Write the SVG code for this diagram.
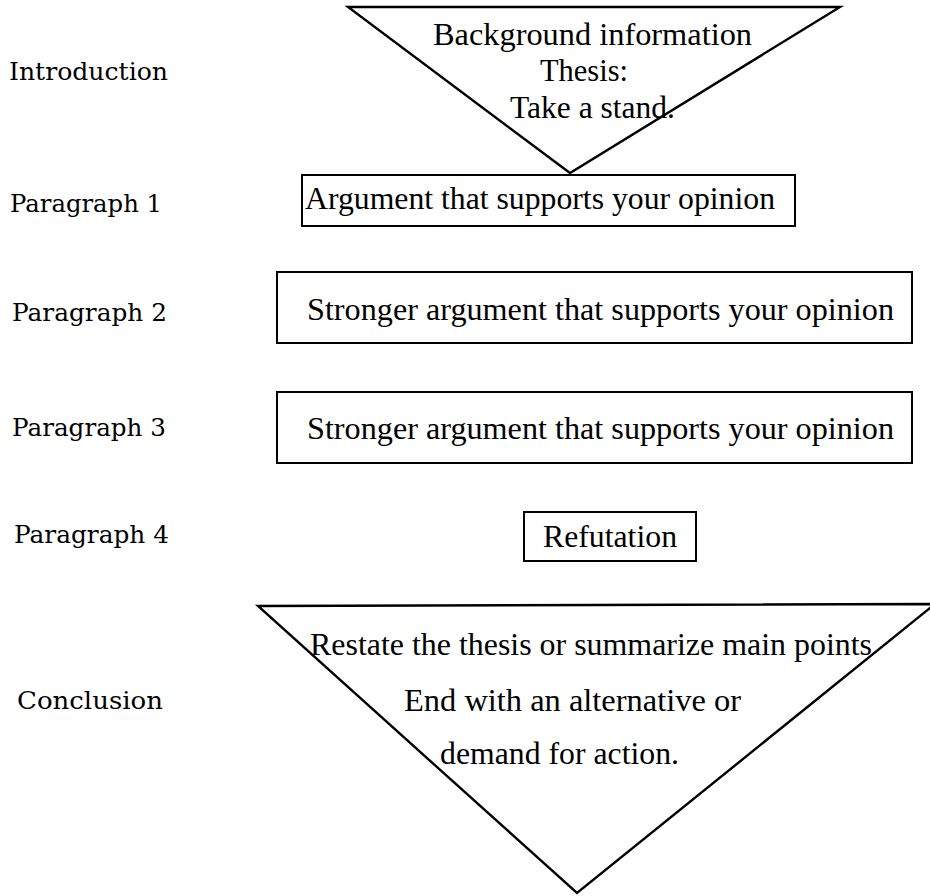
<svg xmlns="http://www.w3.org/2000/svg" width="930" height="896" viewBox="0 0 930 896">
<style>
.shape{fill:none;stroke:#000;stroke-width:2.4;stroke-linejoin:miter}
.box{fill:none;stroke:#000;stroke-width:2}
.t{font-family:"Liberation Serif","Times New Roman",serif;fill:#000}
.lab{font-family:"DejaVu Serif","Liberation Serif",serif;font-size:24px;fill:#000}
</style>
<rect width="930" height="896" fill="#fff"/>
<g id="labels">
<text class="lab" x="9" y="80" textLength="159" lengthAdjust="spacingAndGlyphs">Introduction</text>
<text class="lab" x="10" y="212" textLength="152" lengthAdjust="spacingAndGlyphs">Paragraph 1</text>
<text class="lab" x="12" y="321" textLength="155" lengthAdjust="spacingAndGlyphs">Paragraph 2</text>
<text class="lab" x="12" y="436" textLength="154" lengthAdjust="spacingAndGlyphs">Paragraph 3</text>
<text class="lab" x="14" y="543" textLength="155" lengthAdjust="spacingAndGlyphs">Paragraph 4</text>
<text class="lab" x="17" y="709" textLength="146" lengthAdjust="spacingAndGlyphs">Conclusion</text>
</g>
<g id="introduction">
<polygon class="shape" points="348,7 840,7 570,173"/>
<text class="t" font-size="31" x="433" y="45" textLength="319" lengthAdjust="spacingAndGlyphs">Background information</text>
<text class="t" font-size="31" x="540" y="81" textLength="88" lengthAdjust="spacingAndGlyphs">Thesis:</text>
<text class="t" font-size="31" x="510" y="118" textLength="165" lengthAdjust="spacingAndGlyphs">Take a stand.</text>
</g>
<g id="paragraph1">
<rect class="box" x="302" y="175" width="493" height="51"/>
<text class="t" font-size="31" x="305" y="209" textLength="470" lengthAdjust="spacingAndGlyphs">Argument that supports your opinion</text>
</g>
<g id="paragraph2">
<rect class="box" x="277" y="272" width="635" height="71"/>
<text class="t" font-size="32" x="307" y="320" textLength="587" lengthAdjust="spacingAndGlyphs">Stronger argument that supports your opinion</text>
</g>
<g id="paragraph3">
<rect class="box" x="277" y="392" width="635" height="71"/>
<text class="t" font-size="32" x="307" y="439" textLength="587" lengthAdjust="spacingAndGlyphs">Stronger argument that supports your opinion</text>
</g>
<g id="paragraph4">
<rect class="box" x="524" y="512" width="172" height="49"/>
<text class="t" font-size="31" x="543" y="547" textLength="134" lengthAdjust="spacingAndGlyphs">Refutation</text>
</g>
<g id="conclusion">
<polygon class="shape" points="258,606 935,604 577,893"/>
<text class="t" font-size="32" x="310" y="655" textLength="562" lengthAdjust="spacingAndGlyphs">Restate the thesis or summarize main points</text>
<text class="t" font-size="32" x="404" y="711" textLength="337" lengthAdjust="spacingAndGlyphs">End with an alternative or</text>
<text class="t" font-size="32" x="440" y="764" textLength="239" lengthAdjust="spacingAndGlyphs">demand for action.</text>
</g>
<g id="connectors"/>
</svg>
